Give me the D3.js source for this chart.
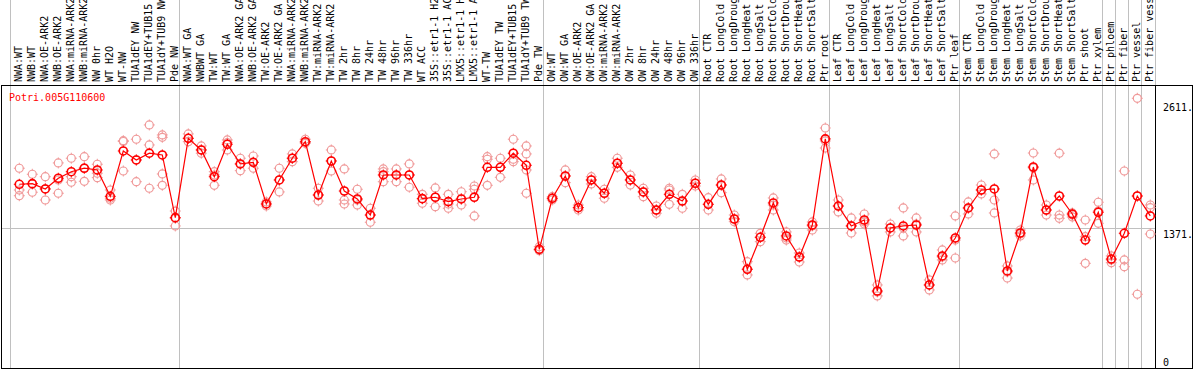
<!DOCTYPE html>
<html><head><meta charset="utf-8">
<script src="https://cdn.jsdelivr.net/npm/d3@7/dist/d3.min.js"></script>
<style>body{margin:0;background:#fff}svg{display:block}text{font-family:"DejaVu Sans Mono",monospace;font-size:10px}</style>
</head><body><div id="chart"></div>
<script>
const title = "Potri.005G110600";
const categories = ["NWA:WT","NWB:WT","NWA:OE-ARK2","NWB:OE-ARK2","NWA:miRNA-ARK2","NWB:miRNA-ARK2","NW 0hr","WT H2O","WT-NW","TUA1dEY NW","TUA1dEY+TUB15 NW","TUA1dY+TUB9 NW","Pde NW",
"NWA:WT GA","NWBWT GA","TW:WT","TW:WT GA","NWA:OE-ARK2 GA","NWB:OE-ARK2 GA","TW:OE-ARK2","TW:OE-ARK2 GA","NWA:miRNA-ARK2","NWB:miRNA-ARK2","TW:miRNA-ARK2","TW:miRNA-ARK2","TW 2hr","TW 8hr","TW 24hr","TW 48hr","TW 96hr","TW 336hr","WT ACC","35S::etr1-1 H2O","35S::etr1-1 ACC","LMX5::etr1-1 H2O","LMX5::etr1-1 ACC","WT-TW","TUA1dEY TW","TUA1dEY+TUB15 TW","TUA1dY+TUB9 TW","Pde TW",
"OW:WT","OW:WT GA","OW:OE-ARK2","OW:OE-ARK2 GA","OW:miRNA-ARK2","OW:miRNA-ARK2","OW 2hr","OW 8hr","OW 24hr","OW 48hr","OW 96hr","OW 336hr",
"Root CTR","Root LongCold","Root LongDrought","Root LongHeat","Root LongSalt","Root ShortCold","Root ShortDrought","Root ShortHeat","Root ShortSalt","Ptr root",
"Leaf CTR","Leaf LongCold","Leaf LongDrought","Leaf LongHeat","Leaf LongSalt","Leaf ShortCold","Leaf ShortDrought","Leaf ShortHeat","Leaf ShortSalt","Ptr leaf",
"Stem CTR","Stem LongCold","Stem LongDrought","Stem LongHeat","Stem LongSalt","Stem ShortCold","Stem ShortDrought","Stem ShortHeat","Stem ShortSalt","Ptr shoot",
"Ptr xylem","Ptr phloem","Ptr fiber","Ptr vessel","Ptr fiber vessel"];
const means = [1799,1805,1753,1858,1922,1956,1939,1681,2125,2037,2103,2086,1472,
2249,2135,1873,2191,1998,2014,1606,1841,2054,2216,1694,2027,1733,1655,1498,1890,1890,1890,1658,1672,1629,1655,1672,1965,1965,2103,1985,1162,
1662,1880,1570,1841,1711,2005,1841,1724,1547,1701,1635,1809,
1603,1792,1459,967,1280,1616,1293,1087,1400,2243,
1586,1391,1449,754,1371,1391,1400,813,1097,1273,
1567,1743,1753,950,1322,1968,1547,1684,1508,1253,
1525,1067,1319,1684,1489];
const replicates = [[1956,1743,1687],[1897,1802,1721],[1873,1753,1645],[2008,1841,1711],[2054,1873,1819],[2069,1959,1828],[1995,1907,1864],[1743,1662,1645],[2226,2218,1929],[2240,2037,1824],[2380,2184,1760],[2282,2259,1900,1789],[1537,1466,1391],
[2292,2249,2216],[2174,2135,2103],[1922,1890,1789],[2233,2206,2135],[2054,1998,1932],[2076,2014,1956],[1626,1606,1586],[1956,1841,1724],[2096,2054,2020],[2240,2208,2200],[1760,1694,1635],[2135,2027,1929],[1949,1645,1606],[1750,1645,1596],[1564,1498,1427],[1949,1922,1824],[1949,1890,1824],[1998,1890,1770],[1701,1658,1613],[1763,1672,1580],[1701,1606,1564],[1726,1655,1596],[1782,1750,1489],[2069,2044,1789],[2054,1965,1867],[2240,2044,2020],[2174,2096,1939,1711],[1188,1162,1149],
[1678,1662,1645],[1939,1880,1815],[1596,1570,1547],[1873,1841,1802],[1750,1711,1662],[2054,2005,1965],[1890,1841,1792],[1760,1724,1678],[1586,1547,1515],[1760,1743,1603],[1701,1635,1564],[1841,1809,1782],
[1668,1603,1547],[1851,1792,1717],[1498,1459,1433],[1041,967,911],[1319,1280,1237],[1665,1596,1547],[1332,1273,1253],[1126,1087,1038],[1430,1391,1351],[2350,2223,2154],
[1645,1586,1528],[1469,1391,1322],[1508,1430,1410],[813,744,706],[1410,1371,1332],[1567,1371,1293],[1469,1410,1332],[862,813,764],[1156,1087,1058],[1489,1253,1077],
[1626,1567,1508],[1792,1743,1704],[2096,1645,1518],[999,940,881],[1351,1312,1293],[2105,1959,1841],[1596,1547,1498],[2103,1498,1466],[1518,1498,1479],[1449,1286,1025],
[1623,1537,1417],[1097,1058,1031],[1929,1058,992],[2641,1684,722],[1596,1570,1312]];
const yTicks = [0, 1371, 2611];
const tickLabels = ["0", "1371.", "2611."];
const groupStarts = ["NWA:WT","NWA:WT GA","OW:WT","Root CTR","Leaf CTR","Stem CTR","Ptr phloem","Ptr fiber","Ptr vessel","Ptr fiber vessel"];

const W = 1194, H = 370;
const svg = d3.select("#chart").append("svg").attr("width", W).attr("height", H);
const pLeft = 11, pRight = 1155, pTop = 85, pBottom = 368;
const x = d3.scaleBand().domain(d3.range(categories.length)).range([pLeft, pRight]).padding(0);
const cx = i => x(i) + 8.3;
const y = d3.scaleLinear().domain([0, 2771]).range([pBottom, pTop]);

// horizontal grid
svg.append("line").attr("x1", 1).attr("x2", pRight).attr("y1", Math.round(y(1371)) + 0.5).attr("y2", Math.round(y(1371)) + 0.5).attr("stroke", "#c0c0c0");
// vertical group lines
groupStarts.forEach(g => {
  const i = categories.indexOf(g);
  const xx = Math.round(x(i)) - 0.5;
  svg.append("line").attr("x1", xx).attr("x2", xx).attr("y1", 0).attr("y2", pBottom).attr("stroke", "#c0c0c0");
});
svg.append("line").attr("x1", pRight + 0.5).attr("x2", pRight + 0.5).attr("y1", 0).attr("y2", pTop).attr("stroke", "#c0c0c0");
// borders
svg.append("rect").attr("x", 1.5).attr("y", pTop + 0.5).attr("width", W - 3).attr("height", pBottom - pTop).attr("fill", "none").attr("stroke", "#000");
svg.append("line").attr("x1", pRight + 0.5).attr("x2", pRight + 0.5).attr("y1", pTop).attr("y2", pBottom).attr("stroke", "#000");

// header labels
svg.append("g").selectAll("text").data(categories).join("text")
  .attr("transform", (d, i) => `translate(${cx(i) + 3},82) rotate(-90)`)
  .attr("fill", "#000").text(d => d);

// y labels
svg.append("g").selectAll("text").data(yTicks).join("text")
  .attr("x", 1163).attr("y", (d, i) => Math.min(y(d) + 10, 366))
  .attr("fill", "#000").text((d, i) => tickLabels[i]);

// title
svg.append("text").attr("x", 9).attr("y", 101).attr("fill", "#ff0000").text(title);

function marker(g, px, py, color, sw) {
  g.append("circle").attr("cx", px).attr("cy", py).attr("r", 4).attr("fill", "none").attr("stroke", color).attr("stroke-width", sw);
  [[0,-1],[0,1],[-1,0],[1,0]].forEach(([a,b]) => {
    g.append("line").attr("x1", px + a*3.5).attr("y1", py + b*3.5).attr("x2", px + a*5.5).attr("y2", py + b*5.5).attr("stroke", color).attr("stroke-width", 1);
  });
}
const rep = svg.append("g");
replicates.forEach((arr, i) => arr.forEach(v => marker(rep, cx(i), y(v), "#f09a9a", 1.2)));

svg.append("path").datum(means).attr("fill", "none").attr("stroke", "#ff0000").attr("stroke-width", 1.2)
  .attr("d", d3.line().x((d, i) => cx(i)).y(d => y(d)));
const mg = svg.append("g");
means.forEach((v, i) => marker(mg, cx(i), y(v), "#ff0000", 1.6));
</script></body></html>
